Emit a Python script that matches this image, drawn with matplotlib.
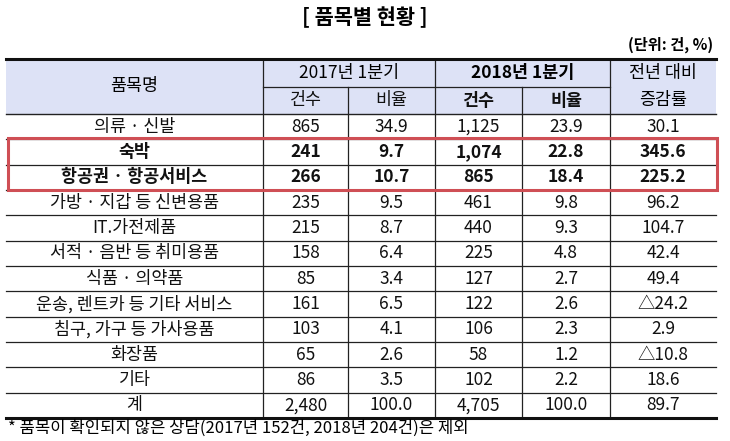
import matplotlib.pyplot as plt
from matplotlib.patches import Rectangle

plt.rcParams['font.family'] = ['Noto Sans CJK KR', 'DejaVu Sans']

# ── data ─────────────────────────────────────────────────────────────────────
items = ["의류 · 신발", "숙박", "항공권 · 항공서비스", "가방 · 지갑 등 신변용품",
         "IT.가전제품", "서적 · 음반 등 취미용품", "식품 · 의약품",
         "운송, 렌트카 등 기타 서비스", "침구, 가구 등 가사용품", "화장품", "기타", "계"]
cnt_2017 = [865, 241, 266, 235, 215, 158, 85, 161, 103, 65, 86, 2480]
ratio_2017 = [34.9, 9.7, 10.7, 9.5, 8.7, 6.4, 3.4, 6.5, 4.1, 2.6, 3.5, 100.0]
cnt_2018 = [1125, 1074, 865, 461, 440, 225, 127, 122, 106, 58, 102, 4705]
ratio_2018 = [23.9, 22.8, 18.4, 9.8, 9.3, 4.8, 2.7, 2.6, 2.3, 1.2, 2.2, 100.0]
growth = [30.1, 345.6, 225.2, 96.2, 104.7, 42.4, 49.4, -24.2, 2.9, -10.8, 18.6, 89.7]
bold_rows = ["숙박", "항공권 · 항공서비스"]

# ── layout (pixel coordinates) ───────────────────────────────────────────────
W, H = 730, 441
X_LEFT, X_RIGHT = 6, 716
COLS = [X_LEFT, 263, 348, 435, 522, 610, X_RIGHT]
Y_TOP, Y_SUB, Y_HEAD = 59, 87, 114
ROW_H = 25.33
HEAD_BG = "#dde2f6"
LINE = "#222222"
FS = 12.5

fig = plt.figure(figsize=(W / 100, H / 100), dpi=100)
ax = fig.add_axes([0, 0, 1, 1])
ax.set_xlim(0, W)
ax.set_ylim(H, 0)
ax.axis("off")


def cell_text(col, y, s, bold=False, fs=FS):
    x = (COLS[col] + COLS[col + 1]) / 2
    ax.text(x, y, s, ha="center", va="center", fontsize=fs,
            fontweight="bold" if bold else "normal", color="#111111")


def fmt_growth(v):
    return f"△{abs(v):.1f}" if v < 0 else f"{v:.1f}"


# title & unit
ax.text(W / 2, 17, "[ 품목별 현황 ]", ha="center", va="center",
        fontsize=15, fontweight="bold")
ax.text(713, 45, "(단위: 건, %)", ha="right", va="center",
        fontsize=11, fontweight="bold")

# header background
ax.add_patch(Rectangle((X_LEFT, Y_TOP), X_RIGHT - X_LEFT, Y_HEAD - Y_TOP,
                       facecolor=HEAD_BG, edgecolor="none", zorder=0))

# header text
ax.text((COLS[0] + COLS[1]) / 2, (Y_TOP + Y_HEAD) / 2, "품목명",
        ha="center", va="center", fontsize=FS)
ax.text((COLS[1] + COLS[3]) / 2, (Y_TOP + Y_SUB) / 2, "2017년 1분기",
        ha="center", va="center", fontsize=FS)
ax.text((COLS[3] + COLS[5]) / 2, (Y_TOP + Y_SUB) / 2, "2018년 1분기",
        ha="center", va="center", fontsize=FS, fontweight="bold")
ax.text((COLS[5] + COLS[6]) / 2, (Y_TOP + Y_SUB) / 2, "전년 대비",
        ha="center", va="center", fontsize=FS)
ax.text((COLS[5] + COLS[6]) / 2, (Y_SUB + Y_HEAD) / 2, "증감률",
        ha="center", va="center", fontsize=FS)
sub_y = (Y_SUB + Y_HEAD) / 2
cell_text(1, sub_y, "건수")
cell_text(2, sub_y, "비율")
cell_text(3, sub_y, "건수", bold=True)
cell_text(4, sub_y, "비율", bold=True)

# body rows
n = len(items)
for i, name in enumerate(items):
    y0 = Y_HEAD + i * ROW_H
    yc = y0 + ROW_H / 2
    b = name in bold_rows
    cell_text(0, yc, name, bold=b)
    cell_text(1, yc, f"{cnt_2017[i]:,}", bold=b)
    cell_text(2, yc, f"{ratio_2017[i]:.1f}", bold=b)
    cell_text(3, yc, f"{cnt_2018[i]:,}", bold=b)
    cell_text(4, yc, f"{ratio_2018[i]:.1f}", bold=b)
    cell_text(5, yc, fmt_growth(growth[i]), bold=b)
    if i > 0:
        ax.plot([X_LEFT, X_RIGHT], [y0, y0], color=LINE, lw=0.9, zorder=2)

Y_BOT = Y_HEAD + n * ROW_H

# grid lines
ax.plot([X_LEFT, X_RIGHT], [Y_TOP, Y_TOP], color="#111111", lw=2.2, zorder=3)
ax.plot([X_LEFT, X_RIGHT], [Y_BOT, Y_BOT], color="#111111", lw=2.2, zorder=3)
ax.plot([X_LEFT, X_RIGHT], [Y_HEAD, Y_HEAD], color=LINE, lw=1.0, zorder=2)
ax.plot([COLS[1], COLS[5]], [Y_SUB, Y_SUB], color=LINE, lw=0.9, zorder=2)
for k, x in enumerate(COLS[1:6], start=1):
    top = Y_SUB if k in (2, 4) else Y_TOP
    ax.plot([x, x], [top, Y_BOT], color=LINE, lw=0.9, zorder=2)

# red highlight box
r0 = Y_HEAD + 1 * ROW_H
ax.add_patch(Rectangle((X_LEFT + 1.5, r0 - 1), X_RIGHT - X_LEFT - 1, 2 * ROW_H + 1,
                       facecolor="none", edgecolor="#cf4f55", lw=2.2, zorder=4))

# footnote
ax.text(8, 428, "* 품목이 확인되지 않은 상담(2017년 152건, 2018년 204건)은 제외",
        ha="left", va="center", fontsize=12)

fig.savefig("out.png", dpi=100, facecolor="white")
